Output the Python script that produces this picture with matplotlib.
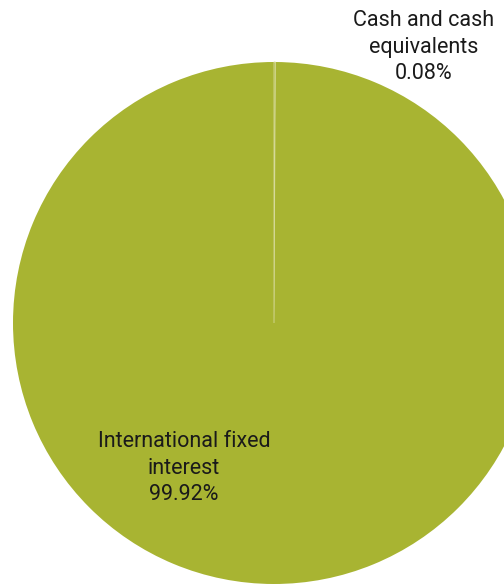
import matplotlib.pyplot as plt

labels = ["Cash and cash\nequivalents", "International fixed\ninterest"]
shares = [0.08, 99.92]
colors = ["#A8B432", "#A8B432"]

W, H = 504, 584
fig = plt.figure(figsize=(W / 100, H / 100), dpi=100)
ax = fig.add_axes([0, 0, 1, 1])

wedges, _ = ax.pie(shares, colors=colors, startangle=90, counterclock=False,
                   center=(274, H - 323), radius=261,
                   wedgeprops=dict(linewidth=0))
# the tiny cash slice only shows as a pale hairline
wedges[0].set_edgecolor("#D6DA9A")
wedges[0].set_linewidth(0.6)
wedges[0].set_zorder(5)

# pie() resets the view, so fix the pixel frame afterwards
ax.set_xlim(0, W)
ax.set_ylim(0, H)
ax.set_aspect("equal")
ax.axis("off")

# label positions in pixel coords (top-left origin)
label_xy = [(424, 47), (184, 468)]
for lab, val, (x, y) in zip(labels, shares, label_xy):
    ax.text(x, H - y, f"{lab}\n{val:.2f}%", ha="center", va="center",
            fontsize=15.5, family="Roboto", color="#1a1a1a", linespacing=1.37)

fig.savefig("out.png", dpi=100)
